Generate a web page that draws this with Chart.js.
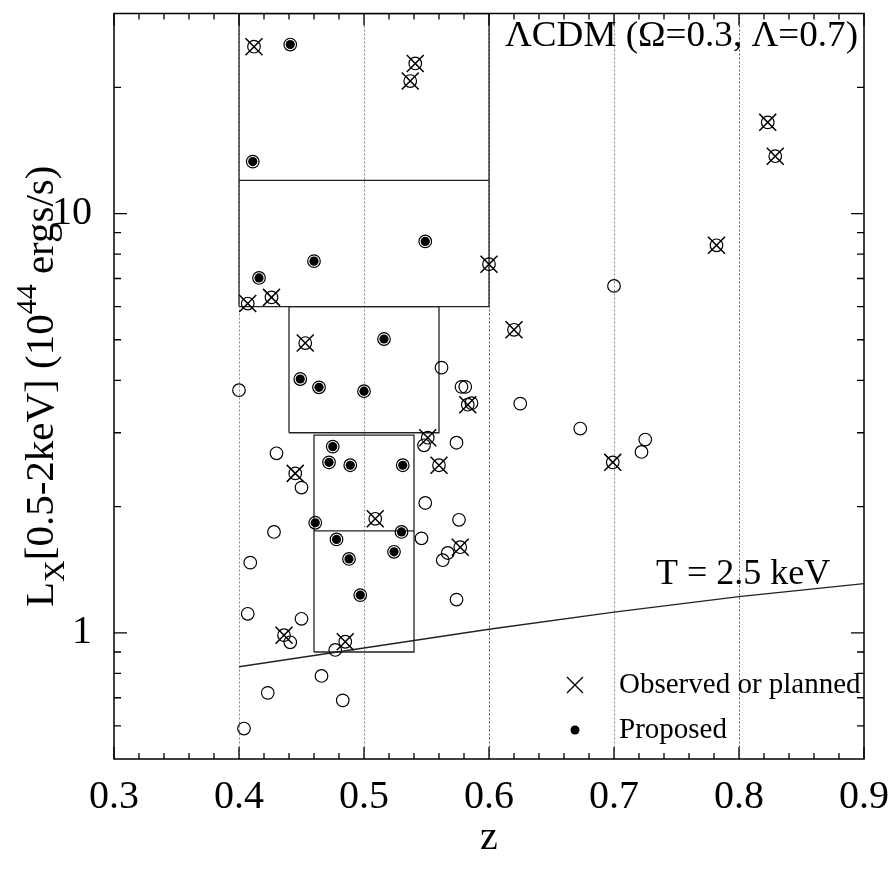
<!DOCTYPE html>
<html>
<head>
<meta charset="utf-8">
<script src="https://cdn.jsdelivr.net/npm/chart.js@4.4.1/dist/chart.umd.min.js"></script>
<style>
  html, body { margin: 0; padding: 0; background: #fff; }
  canvas { display: block; }
</style>
</head>
<body>
<canvas id="lxChart" width="891" height="872"></canvas>
<script>
// clusters with X over the circle: observed or planned
const observedZ = [0.412, 0.541, 0.537, 0.823, 0.829, 0.782, 0.600, 0.426, 0.407, 0.453,
                   0.620, 0.583, 0.551, 0.560, 0.445, 0.509, 0.577, 0.699, 0.436, 0.485];
const observedL = [25.0, 22.8, 20.7, 16.5, 13.7, 8.40, 7.57, 6.31, 6.10, 4.91,
                   5.28, 3.50, 2.92, 2.51, 2.40, 1.87, 1.60, 2.55, 0.987, 0.952];

// clusters with a filled dot: proposed
const proposedZ = [0.441, 0.411, 0.549, 0.460, 0.416, 0.516, 0.449, 0.464, 0.500, 0.475,
                   0.472, 0.489, 0.531, 0.461, 0.530, 0.478, 0.524, 0.488, 0.497];
const proposedL = [25.3, 13.3, 8.58, 7.70, 7.02, 5.02, 4.03, 3.85, 3.77, 2.78,
                   2.55, 2.51, 2.51, 1.83, 1.74, 1.67, 1.56, 1.50, 1.23];

// remaining clusters, open circle only
const otherZ = [0.700, 0.562, 0.400, 0.578, 0.581, 0.586, 0.548, 0.574, 0.430, 0.450,
                0.549, 0.576, 0.428, 0.546, 0.567, 0.563, 0.409, 0.574, 0.407, 0.450,
                0.441, 0.477, 0.466, 0.423, 0.483, 0.404, 0.625, 0.673, 0.725, 0.722];
const otherL = [6.72, 4.29, 3.79, 3.86, 3.86, 3.53, 2.80, 2.84, 2.68, 2.22,
                2.04, 1.86, 1.74, 1.68, 1.55, 1.49, 1.47, 1.20, 1.11, 1.08,
                0.949, 0.910, 0.789, 0.719, 0.690, 0.591, 3.52, 3.07, 2.89, 2.70];

// T = 2.5 keV curve
const tLineZ = [0.4, 0.5, 0.6, 0.7, 0.8, 0.9];
const tLineL = [0.83, 0.92, 1.02, 1.12, 1.22, 1.31];

// selection boxes
const boxZLo = [0.40, 0.44, 0.46];
const boxZHi = [0.60, 0.56, 0.54];
const boxLLo = [6.0, 3.0, 0.9];
const boxLHi = [30, 6.0, 2.96];
const boxSplit = [12, null, 1.75];

// axes
const xTicks = [0.3, 0.4, 0.5, 0.6, 0.7, 0.8, 0.9];
const xGridZ = [0.4, 0.5, 0.6, 0.7, 0.8];
const yMajor = [1, 10];
const yMinor = [0.6, 0.7, 0.8, 0.9, 2, 3, 4, 5, 6, 7, 8, 9, 20];

const FONT = '"Liberation Serif", "Times New Roman", serif';

const toPoints = (zs, ls) => zs.map((z, i) => ({ x: z, y: ls[i] }));

const lineSet = (pts, width) => ({
    data: pts,
    showLine: true,
    borderColor: '#222',
    borderWidth: width,
    pointRadius: 0,
    fill: false
});

const boxSets = [];
boxZLo.forEach((z0, i) => {
    const z1 = boxZHi[i], l0 = boxLLo[i], l1 = boxLHi[i];
    boxSets.push(lineSet([
        { x: z0, y: l0 }, { x: z1, y: l0 }, { x: z1, y: l1 }, { x: z0, y: l1 }, { x: z0, y: l0 }
    ], 1.3));
    if (boxSplit[i]) {
        boxSets.push(lineSet([{ x: z0, y: boxSplit[i] }, { x: z1, y: boxSplit[i] }], 1.3));
    }
});

const allCircles = toPoints(observedZ.concat(proposedZ, otherZ), observedL.concat(proposedL, otherL));

const framePlugin = {
    id: 'frame',
    beforeDatasetsDraw(chart) {
        const { ctx, chartArea: a, scales: { x } } = chart;
        ctx.save();
        ctx.setLineDash([2, 2]);
        ctx.lineWidth = 1;
        xGridZ.forEach(z => {
            const px = Math.round(x.getPixelForValue(z)) + 0.5;
            ctx.strokeStyle = (z === 0.6 || z === 0.8) ? '#555' : '#888';
            ctx.beginPath();
            ctx.moveTo(px, a.top);
            ctx.lineTo(px, a.bottom);
            ctx.stroke();
        });
        ctx.restore();
    },
    afterDraw(chart) {
        const { ctx, chartArea: a, scales: { x, y } } = chart;
        ctx.save();
        ctx.strokeStyle = '#000';
        ctx.lineWidth = 1.5;
        ctx.strokeRect(a.left, a.top, a.right - a.left, a.bottom - a.top);

        // tick marks, pointing inward on all four sides
        ctx.lineWidth = 1.3;
        ctx.beginPath();
        for (let k = 0; k <= 30; k++) {
            const z = 0.3 + k * 0.02;
            const px = x.getPixelForValue(z);
            const len = k % 5 === 0 ? 12 : 6;
            ctx.moveTo(px, a.bottom); ctx.lineTo(px, a.bottom - len);
            ctx.moveTo(px, a.top); ctx.lineTo(px, a.top + len);
        }
        yMajor.concat(yMinor).forEach(v => {
            const py = y.getPixelForValue(v);
            const len = yMajor.includes(v) ? 13 : 7;
            ctx.moveTo(a.left, py); ctx.lineTo(a.left + len, py);
            ctx.moveTo(a.right, py); ctx.lineTo(a.right - len, py);
        });
        ctx.stroke();

        ctx.fillStyle = '#000';
        ctx.textBaseline = 'alphabetic';

        // model label, slightly widened like the original
        ctx.save();
        ctx.font = `35px ${FONT}`;
        ctx.textAlign = 'right';
        ctx.translate(858, 46);
        ctx.scale(1.06, 1);
        ctx.fillText('\u039BCDM (\u03A9=0.3, \u039B=0.7)', 0, 0);
        ctx.restore();

        ctx.font = `36px ${FONT}`;
        ctx.textAlign = 'left';
        ctx.fillText('T = 2.5 keV', 656, 584);

        // legend
        ctx.lineWidth = 1.3;
        ctx.beginPath();
        ctx.moveTo(567, 677); ctx.lineTo(583, 693);
        ctx.moveTo(583, 677); ctx.lineTo(567, 693);
        ctx.stroke();
        ctx.beginPath();
        ctx.arc(575, 730, 4.5, 0, Math.PI * 2);
        ctx.fill();
        ctx.font = `29px ${FONT}`;
        ctx.fillText('Observed or planned', 619, 693);
        ctx.fillText('Proposed', 619, 738);

        // y axis title with sub- and superscript
        const parts = [
            { t: 'L', size: 41, dy: 0 },
            { t: 'X', size: 30, dy: 11 },
            { t: '[0.5-2keV] (10', size: 41, dy: 0 },
            { t: '44', size: 30, dy: -17 },
            { t: ' ergs/s)', size: 41, dy: 0 }
        ];
        let total = 0;
        parts.forEach(p => {
            ctx.font = `${p.size}px ${FONT}`;
            p.w = ctx.measureText(p.t).width;
            total += p.w;
        });
        ctx.translate(53, (a.top + a.bottom) / 2);
        ctx.rotate(-Math.PI / 2);
        let cx = -total / 2;
        parts.forEach(p => {
            ctx.font = `${p.size}px ${FONT}`;
            ctx.fillText(p.t, cx, p.dy);
            cx += p.w;
        });
        ctx.restore();
    }
};

new Chart(document.getElementById('lxChart'), {
    type: 'scatter',
    data: {
        datasets: [
            {
                label: 'Observed or planned',
                data: toPoints(observedZ, observedL),
                pointStyle: 'crossRot',
                pointRadius: 12,
                pointBorderWidth: 1.5,
                borderColor: '#000',
                backgroundColor: 'rgba(0,0,0,0)'
            },
            {
                label: 'Proposed',
                data: toPoints(proposedZ, proposedL),
                pointStyle: 'circle',
                pointRadius: 4.6,
                pointBorderWidth: 0,
                borderColor: '#000',
                backgroundColor: '#000'
            },
            {
                label: 'Clusters',
                data: allCircles,
                pointStyle: 'circle',
                pointRadius: 6.3,
                pointBorderWidth: 1.2,
                borderColor: '#000',
                backgroundColor: 'rgba(0,0,0,0)'
            },
            lineSet(toPoints(tLineZ, tLineL), 1.4),
            ...boxSets
        ]
    },
    options: {
        responsive: false,
        animation: false,
        events: [],
        layout: { padding: { top: 10, right: 27, left: 0, bottom: 0 } },
        plugins: {
            legend: { display: false },
            tooltip: { enabled: false }
        },
        scales: {
            x: {
                type: 'linear',
                min: 0.3,
                max: 0.9,
                afterBuildTicks: s => { s.ticks = xTicks.map(v => ({ value: v })); },
                afterFit: s => {
                    s.height = 113;
                    s.paddingLeft = 0;
                    s.paddingRight = 0;
                },
                grid: { display: false },
                border: { display: false },
                ticks: {
                    callback: v => v.toFixed(1),
                    font: { family: FONT, size: 40 },
                    color: '#000',
                    padding: 6,
                    maxRotation: 0,
                    autoSkip: false
                },
                title: {
                    display: true,
                    text: 'z',
                    font: { family: FONT, size: 40 },
                    color: '#000',
                    padding: { top: 0, bottom: 10 }
                }
            },
            y: {
                type: 'logarithmic',
                min: 0.5,
                max: 30,
                afterBuildTicks: s => { s.ticks = yMajor.map(v => ({ value: v })); },
                afterFit: s => {
                    s.width = 114;
                    s.paddingTop = 0;
                    s.paddingBottom = 0;
                },
                grid: { display: false },
                border: { display: false },
                ticks: {
                    callback: v => String(v),
                    font: { family: FONT, size: 40 },
                    color: '#000',
                    padding: 14
                }
            }
        }
    },
    plugins: [framePlugin]
});
</script>
</body>
</html>
